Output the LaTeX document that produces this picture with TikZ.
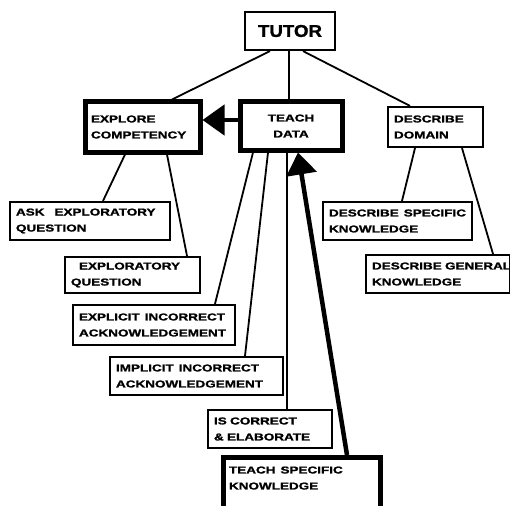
\documentclass[tikz,border=0pt]{standalone}
\usepackage{fontspec}
\newfontfamily\handfont[FakeStretch=1.35,FakeBold=1.6]{Liberation Sans}
\newfontfamily\titlefont[FakeStretch=1.1,FakeBold=1.5]{Liberation Sans}
\usetikzlibrary{calc,arrows.meta}
\begin{document}
\begin{tikzpicture}[x=1pt,y=-1pt,
  box/.style={draw,line width=2.2pt,inner xsep=6pt,inner ysep=0pt,align=left,
    font=\handfont\bfseries\fontsize{10}{16}\selectfont},
  heavy/.style={box,line width=5pt},
  link/.style={line width=1.8pt},
  bigarrow/.style={line width=4.5pt,-{Triangle[width=30pt,length=22pt]}}]
  \useasboundingbox (0,0) rectangle (510,505);
  % top level
  \node[draw,line width=2.2pt,minimum width=90pt,minimum height=38pt,
        font=\titlefont\bfseries\fontsize{17}{20}\selectfont] (tutor) at (290,31) {TUTOR};
  \node[heavy,text width=103pt,minimum height=50pt] (explore) at (142.5,127) {EXPLORE\\COMPETENCY};
  \node[heavy,text width=90pt,minimum height=48pt,align=center] (teach) at (291,126) {TEACH\\DATA};
  \node[box,text width=83pt,minimum height=40pt] (describe) at (435.5,127) {DESCRIBE\\DOMAIN};
  % second level
  \node[box,text width=148pt,minimum height=38pt] (ask) at (90,221) {ASK\quad EXPLORATORY\\QUESTION};
  \node[box,text width=123pt,minimum height=36pt] (expq) at (132.5,275) {\hspace*{8pt}EXPLORATORY\\QUESTION};
  \node[box,text width=150pt,minimum height=40pt] (explicit) at (154,325) {EXPLICIT\enspace INCORRECT\\ACKNOWLEDGEMENT};
  \node[box,text width=161pt,minimum height=38pt] (implicit) at (196.5,376) {IMPLICIT\enspace INCORRECT\\ACKNOWLEDGEMENT};
  \node[box,text width=112pt,minimum height=38pt] (iscorrect) at (270,429) {IS CORRECT\\\& ELABORATE};
  \node[heavy,text width=145pt,anchor=north,inner ysep=9pt,text depth=34pt] (tsk) at (301.5,455) {TEACH\enspace SPECIFIC\\KNOWLEDGE};
  \node[box,text width=137pt,minimum height=38pt] (dsk) at (397.5,221) {DESCRIBE\enspace SPECIFIC\\KNOWLEDGE};
  \node[box,text width=132pt,minimum height=38pt] (dgk) at (438,274) {\mbox{DESCRIBE GENERAL}\\KNOWLEDGE};
  % connectors
  \draw[link] ([xshift=-20pt]tutor.south) -- ([xshift=29.5pt]explore.north);
  \draw[link] ([xshift=-1pt]tutor.south) -- ([xshift=-2pt]teach.north);
  \draw[link] ([xshift=13pt]tutor.south) -- ([xshift=-25.5pt]describe.north);
  \draw[link] ([xshift=-17.5pt]explore.south) -- ([xshift=13pt]ask.north);
  \draw[link] ([xshift=24.5pt]explore.south) -- ([xshift=54.5pt]expq.north);
  \draw[link] ([xshift=-38pt]teach.south) -- ([xshift=61pt]explicit.north);
  \draw[link] ([xshift=-23pt]teach.south) -- ([xshift=48.5pt]implicit.north);
  \draw[link] ([xshift=-4pt]teach.south) -- ([xshift=17pt]iscorrect.north);
  \draw[link] ([xshift=-20.5pt]describe.south) -- ([xshift=4.5pt]dsk.north);
  \draw[link] ([xshift=26.5pt]describe.south) -- ([xshift=55pt]dgk.north);
  % heavy arrows
  \draw[bigarrow] ([yshift=6pt]teach.west) -- ([yshift=7pt]explore.east);
  \draw[bigarrow] ([xshift=45.5pt]tsk.north) -- ([xshift=7pt]teach.south);
\end{tikzpicture}
\end{document}
